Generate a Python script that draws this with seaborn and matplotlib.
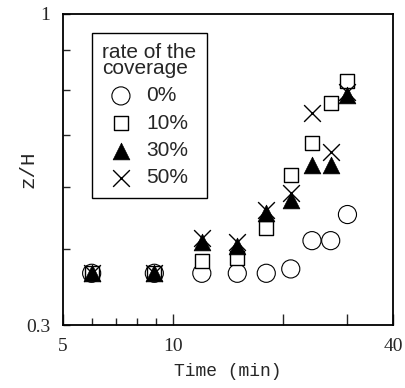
import matplotlib
matplotlib.use("Agg")
import matplotlib.pyplot as plt
import seaborn as sns
import pandas as pd
from matplotlib.ticker import FixedLocator, FixedFormatter, NullFormatter

# values
time_0 = [6, 8.9, 12, 15, 18, 21, 24, 27, 30]
zh_0 = [0.466, 0.466, 0.466, 0.466, 0.466, 0.472, 0.513, 0.513, 0.554]

time_10 = [6, 8.9, 12, 15, 18, 21, 24, 27, 30]
zh_10 = [0.466, 0.466, 0.483, 0.487, 0.532, 0.622, 0.683, 0.770, 0.821]

time_30 = [6, 8.9, 12, 15, 18, 21, 24, 27, 30]
zh_30 = [0.466, 0.466, 0.511, 0.505, 0.556, 0.579, 0.641, 0.641, 0.788]

time_50 = [6, 8.9, 12, 15, 18, 21, 24, 27, 30]
zh_50 = [0.466, 0.466, 0.517, 0.511, 0.562, 0.590, 0.746, 0.666, 0.795]

labels = ["0%", "10%", "30%", "50%"]

sns.set_style("white")

fig = plt.figure(figsize=(4.06, 3.88), dpi=100)
ax = fig.add_axes([0.1544, 0.162, 0.814, 0.802])

sns.scatterplot(x=time_0, y=zh_0, marker="o", s=170, color="black",
                facecolors="none", edgecolor="black", linewidth=0.8,
                label=labels[0], ax=ax, zorder=3)
sns.scatterplot(x=time_10, y=zh_10, marker="s", s=110, color="black",
                facecolors="white", edgecolor="black", linewidth=1.0,
                label=labels[1], ax=ax, zorder=3)
sns.scatterplot(x=time_30, y=zh_30, marker="^", s=145, color="black",
                edgecolor="black", linewidth=0.5, label=labels[2], ax=ax, zorder=3)
sns.scatterplot(x=time_50, y=zh_50, marker="x", s=145, color="black",
                linewidth=1.0, label=labels[3], ax=ax, zorder=3)

ax.set_xscale("log")
ax.set_yscale("log")
ax.set_xlim(5, 40)
ax.set_ylim(0.4, 1.0)

ax.xaxis.set_major_locator(FixedLocator([5, 10, 20, 30, 40]))
ax.xaxis.set_major_formatter(FixedFormatter(["5", "10", "", "", "40"]))
ax.xaxis.set_minor_locator(FixedLocator([6, 7, 8, 9]))
ax.xaxis.set_minor_formatter(NullFormatter())

# the original figure labels its bottom edge "0.3"
ax.yaxis.set_major_locator(FixedLocator([0.4, 1.0]))
ax.yaxis.set_major_formatter(FixedFormatter(["0.3", "1"]))
ax.yaxis.set_minor_locator(FixedLocator([0.5, 0.6, 0.7, 0.8, 0.9]))
ax.yaxis.set_minor_formatter(NullFormatter())

ax.tick_params(axis="x", which="major", direction="in", length=8, width=1,
               pad=9, labelsize=14, bottom=True, top=False)
ax.tick_params(axis="x", which="minor", direction="in", length=5, width=1,
               bottom=True, top=False)
ax.tick_params(axis="y", which="both", direction="in", length=5, width=1,
               pad=9, labelsize=14, left=True, right=False)
for t in ax.get_xticklabels() + ax.get_yticklabels():
    t.set_fontfamily("Liberation Serif")

for sp in ax.spines.values():
    sp.set_color("black")
    sp.set_linewidth(1.3)

ax.set_xlabel("Time (min)", fontsize=13, family="Liberation Mono", labelpad=6)
ax.set_ylabel("z/H", fontsize=15, family="Liberation Mono", labelpad=-8)

leg = ax.legend(title="rate of the\ncoverage", loc="upper left",
                bbox_to_anchor=(0.088, 0.94), borderaxespad=0,
                fancybox=False, edgecolor="black", framealpha=1,
                prop={"family": "Liberation Sans", "size": 15},
                title_fontproperties={"family": "Liberation Sans", "size": 15},
                alignment="left", labelspacing=0.4, handletextpad=0.3,
                handlelength=1.8, borderpad=0.5)
leg.get_frame().set_linewidth(1.0)
leg.get_title().set_linespacing(0.8)

fig.savefig("out.png", dpi=100)
